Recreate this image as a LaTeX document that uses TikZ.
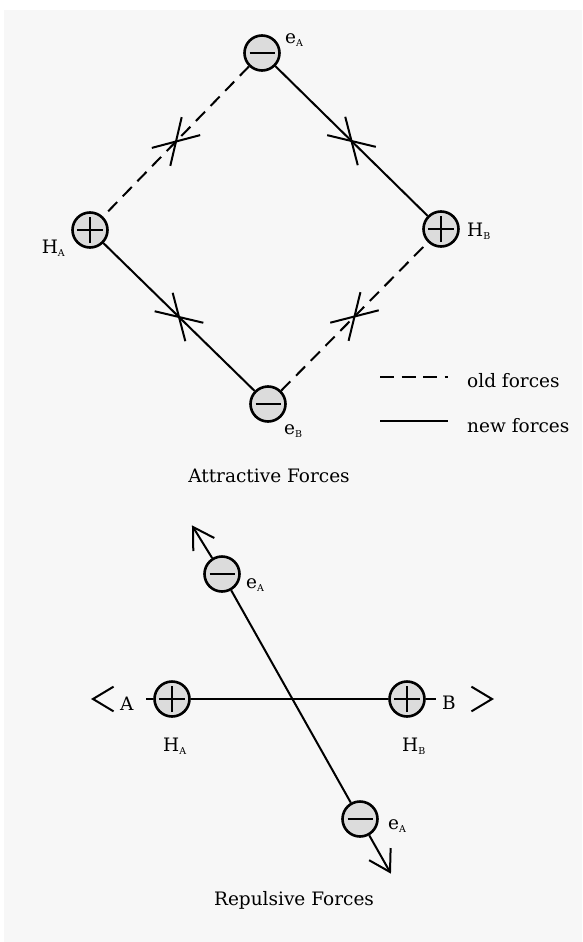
\documentclass[tikz,border=0pt]{standalone}
\usepackage{fontspec}
\setmainfont{DejaVu Serif}
\usetikzlibrary{calc}
\definecolor{bgc}{HTML}{F7F7F7}
\definecolor{ballc}{HTML}{DCDCDC}
\newcommand{\lbsub}[2]{#1\raisebox{-3.5pt}{\fontsize{9.5}{10}\selectfont #2}}
\newcommand{\xarrows}[3]{%
  \path (#1) -- (#2) coordinate[pos=0.5] (#3);
  \draw[conn] ($(#3)!25pt!31:(#1)$) -- (#3) -- ($(#3)!25pt!-31:(#1)$);
  \draw[conn] ($(#3)!25pt!31:(#2)$) -- (#3) -- ($(#3)!25pt!-31:(#2)$);
}
\newcommand{\openhead}[2]{%
  \draw[conn] ($(#1)!24pt!31:(#2)$) -- (#1) -- ($(#1)!24pt!-31:(#2)$);
}
\begin{document}
\begin{tikzpicture}[x=1pt,y=-1pt,
  conn/.style={line width=2pt},
  olddash/.style={dash pattern=on 13pt off 8pt},
  ball/.style={circle, draw, line width=2.6pt, fill=ballc, minimum size=35pt, inner sep=0pt},
  plusball/.style={ball, path picture={
      \draw[line width=2.4pt] ([xshift=-13pt]path picture bounding box.center) -- ([xshift=13pt]path picture bounding box.center);
      \draw[line width=2.4pt] ([yshift=-13pt]path picture bounding box.center) -- ([yshift=13pt]path picture bounding box.center);}},
  minusball/.style={ball, path picture={
      \draw[line width=2.4pt] ([xshift=-12.5pt]path picture bounding box.center) -- ([xshift=12.5pt]path picture bounding box.center);}},
  lbl/.style={font=\fontsize{18.5}{22}\selectfont, inner sep=0pt}
]
\useasboundingbox (0,0) rectangle (582,942);
\fill[bgc] (4,10) rectangle (582,942);

% ---------- Attractive forces ----------
\node[minusball] (eA) at (262,53) {};
\node[plusball] (HA) at (90,230) {};
\node[plusball] (HB) at (441,229) {};
\node[minusball] (eB) at (268,404) {};

\draw[conn, olddash] (eA) -- (HA);
\draw[conn] (eA) -- (HB);
\draw[conn] (HA) -- (eB);
\draw[conn, olddash] (eB) -- (HB);

\xarrows{eA}{HA}{m1}
\xarrows{eA}{HB}{m2}
\xarrows{HA}{eB}{m3}
\xarrows{eB}{HB}{m4}

\node[lbl, anchor=base west] (eAl) at (285,43.5) {\lbsub{e}{A}};
\node[lbl, anchor=base east] (HAl) at (65,253) {\lbsub{H}{A}};
\node[lbl, anchor=base west] (HBl) at (467,236) {\lbsub{H}{B}};
\node[lbl, anchor=base west] (eBl) at (284,434) {\lbsub{e}{B}};

% legend
\coordinate (lg1a) at (380,377);
\coordinate (lg1b) at (448,377);
\coordinate (lg2a) at (380,421);
\coordinate (lg2b) at (448,421);
\draw[conn, dash pattern=on 14pt off 7.5pt] (lg1a) -- (lg1b);
\draw[conn] (lg2a) -- (lg2b);
\node[lbl, anchor=base west] (old) at (467,387) {old forces};
\node[lbl, anchor=base west] (new) at (467,432) {new forces};

\node[lbl, anchor=base] (att) at (269,482) {Attractive Forces};

% ---------- Repulsive forces ----------
\node[minusball] (eA2) at (222,574) {};
\node[minusball] (eA3) at (360,819) {};
\node[plusball] (HA2) at (172,699) {};
\node[plusball] (HB2) at (407,699) {};

\coordinate (t1) at (193,527);
\coordinate (t2) at (390,872);
\draw[conn] (t1) -- (eA2);
\draw[conn] (eA2) -- (eA3);
\draw[conn] (eA3) -- (t2);
\openhead{t1}{eA2}
\openhead{t2}{eA3}

\coordinate (hl) at (146,699);
\coordinate (hr) at (436,699);
\draw[conn] (hl) -- (HA2);
\draw[conn] (HA2) -- (HB2);
\draw[conn] (HB2) -- (hr);

\coordinate (al) at (93,699);
\coordinate (ar) at (492,699);
\openhead{al}{HA2}
\openhead{ar}{HB2}

\node[lbl, anchor=base west] (Al) at (120,710) {A};
\node[lbl, anchor=base west] (Bl) at (442,709) {B};
\node[lbl, anchor=base west] (eA2l) at (246,588) {\lbsub{e}{A}};
\node[lbl, anchor=base west] (eA3l) at (388,829) {\lbsub{e}{A}};
\node[lbl, anchor=base west] (HA2l) at (163,751) {\lbsub{H}{A}};
\node[lbl, anchor=base west] (HB2l) at (402,751) {\lbsub{H}{B}};

\node[lbl, anchor=base] (rep) at (294,905) {Repulsive Forces};
\end{tikzpicture}
\end{document}
